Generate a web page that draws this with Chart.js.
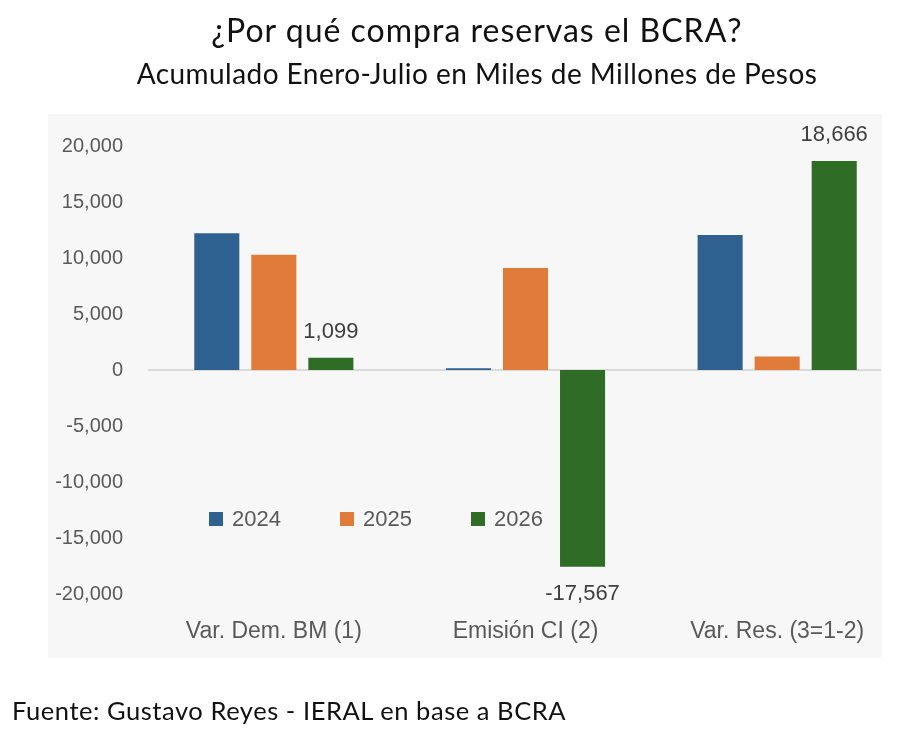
<!DOCTYPE html>
<html>
<head>
<meta charset="utf-8">
<script src="https://cdn.jsdelivr.net/npm/chart.js@4.4.1/dist/chart.umd.min.js"></script>
<style>
  body { margin: 0; background: #fff; }
  #wrap { position: relative; width: 914px; height: 744px; overflow: hidden; }
  #chart { position: absolute; left: 0; top: 0; }
  .txt { position: absolute; color: #111; font-family: Lato, "Open Sans", sans-serif; white-space: nowrap; line-height: normal; }
  #title { top: 10px; left: 0; width: 954px; text-align: center; font-size: 32px; letter-spacing: 1px; }
  #subtitle { top: 56px; left: 0; width: 954px; text-align: center; font-size: 28px; letter-spacing: 0.45px; }
  #source { top: 695px; left: 12px; font-size: 25.5px; letter-spacing: 0.55px; }
  #legend { position: absolute; left: 209px; top: 506px; font-family: "Liberation Sans", Arial, sans-serif;
            font-size: 22px; color: #595959; }
  #legend span.item { display: inline-block; width: 131px; }
  #legend span.box { display: inline-block; width: 14px; height: 14px; margin-right: 9px; vertical-align: 0px; }
</style>
</head>
<body>
<div id="wrap">
  <canvas id="chart" width="914" height="744"></canvas>
  <div class="txt" id="title">¿Por qué compra reservas el BCRA?</div>
  <div class="txt" id="subtitle">Acumulado Enero-Julio en Miles de Millones de Pesos</div>
  <div class="txt" id="source">Fuente: Gustavo Reyes - IERAL en base a BCRA</div>
  <div id="legend"></div>
</div>
<script>
// datos (miles de millones de pesos)
var categories = ["Var. Dem. BM (1)", "Emisión CI (2)", "Var. Res. (3=1-2)"];
var years = ["2024", "2025", "2026"];
var values2024 = [12200, 150, 12050];
var values2025 = [10300, 9100, 1200];
var values2026 = [1099, -17567, 18666];
var yTicks = [20000, 15000, 10000, 5000, 0, -5000, -10000, -15000, -20000];

var colors = ["#2e6190", "#e07b39", "#2f6d27"];
var fmt = function(v){ return Number(v).toLocaleString("en-US"); };

// fondo gris y linea del cero
var bgPlugin = {
  id: "bg",
  beforeDraw: function(chart){
    var ctx = chart.ctx;
    ctx.save();
    ctx.fillStyle = "#f7f7f7";
    ctx.fillRect(48, 114, 834, 544);
    var y0 = chart.scales.y.getPixelForValue(0);
    ctx.strokeStyle = "#d0d0d0";
    ctx.lineWidth = 1.5;
    ctx.beginPath();
    ctx.moveTo(chart.chartArea.left, y0);
    ctx.lineTo(881, y0);
    ctx.stroke();
    ctx.restore();
  }
};

// etiquetas solo para la serie 2026
var labelPlugin = {
  id: "valueLabels",
  afterDatasetsDraw: function(chart){
    var ctx = chart.ctx;
    var meta = chart.getDatasetMeta(2);
    ctx.save();
    ctx.font = "22px 'Liberation Sans', Arial, sans-serif";
    ctx.fillStyle = "#404040";
    ctx.textAlign = "center";
    ctx.textBaseline = "middle";
    meta.data.forEach(function(bar, i){
      var v = values2026[i];
      var y = v >= 0 ? bar.y - 26 : bar.y + 27;
      ctx.fillText(fmt(v), bar.x, y);
    });
    ctx.restore();
  }
};

var chart = new Chart(document.getElementById("chart"), {
  type: "bar",
  data: {
    labels: categories,
    datasets: [
      { label: years[0], data: values2024, backgroundColor: colors[0] },
      { label: years[1], data: values2025, backgroundColor: colors[1] },
      { label: years[2], data: values2026, backgroundColor: colors[2] }
    ]
  },
  options: {
    responsive: false,
    animation: false,
    devicePixelRatio: 1,
    layout: { padding: { left: 0, right: 11, top: 146, bottom: 0 } },
    datasets: { bar: { categoryPercentage: 0.68, barPercentage: 0.79 } },
    plugins: {
      legend: { display: false },
      tooltip: { enabled: false }
    },
    scales: {
      x: {
        grid: { display: false, drawTicks: false },
        border: { display: false },
        ticks: { color: "#595959", padding: 24, font: { family: "'Liberation Sans', Arial, sans-serif", size: 23 } },
        afterFit: function(s){ s.height = 150; }
      },
      y: {
        min: -20000, max: 20000,
        grid: { display: false, drawTicks: false },
        border: { display: false },
        afterBuildTicks: function(s){ s.ticks = yTicks.map(function(v){ return { value: v }; }); },
        ticks: { color: "#595959", padding: 25, callback: function(v){ return fmt(v); },
                 font: { family: "'Liberation Sans', Arial, sans-serif", size: 20 } },
        afterFit: function(s){ s.width = 148; }
      }
    }
  },
  plugins: [bgPlugin, labelPlugin]
});

// leyenda en html dentro del area del grafico
var legend = document.getElementById("legend");
chart.data.datasets.forEach(function(ds){
  var item = document.createElement("span");
  item.className = "item";
  item.innerHTML = '<span class="box" style="background:' + ds.backgroundColor + '"></span>' + ds.label;
  legend.appendChild(item);
});
</script>
</body>
</html>
